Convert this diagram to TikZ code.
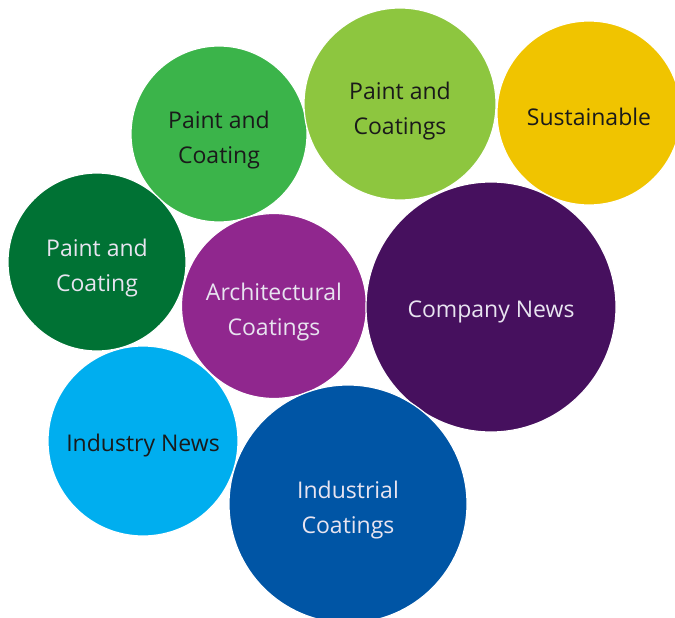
\documentclass[tikz,border=0pt]{standalone}
\usepackage{fontspec}
\setmainfont{Open Sans}
\definecolor{cMedGreen}{HTML}{3BB44A}
\definecolor{cLightGreen}{HTML}{8DC63F}
\definecolor{cYellow}{HTML}{F0C400}
\definecolor{cDarkGreen}{HTML}{007234}
\definecolor{cPurple}{HTML}{90278E}
\definecolor{cDarkPurple}{HTML}{46105E}
\definecolor{cLightBlue}{HTML}{00AEEF}
\definecolor{cBlue}{HTML}{0055A5}
\definecolor{cDarkText}{HTML}{1A1A1A}
\definecolor{cLightText}{HTML}{E8E4F0}
\tikzset{
  bubble/.style={circle, draw=white, line width=1.2pt, inner sep=0pt},
  lbl/.style={inner sep=0pt, align=center, font=\fontsize{23}{35}\selectfont},
  darktxt/.style={lbl, text=cDarkText},
  lighttxt/.style={lbl, text=cLightText}
}
\begin{document}
\begin{tikzpicture}[x=1pt,y=-1pt]
\useasboundingbox (0,0) rectangle (675,618);
\node[bubble, fill=cMedGreen, minimum size=176pt] (pc1) at (219,134) {};
\node[darktxt] (pc1t) at ([yshift=-6pt]pc1.center) {Paint and\\Coating};
\node[bubble, fill=cLightGreen, minimum size=192pt] (pc2) at (400,104) {};
\node[darktxt] (pc2t) at ([yshift=-7pt]pc2.center) {Paint and\\Coatings};
\node[bubble, fill=cYellow, minimum size=184pt] (sus) at (589,113) {};
\node[darktxt] (sust) at ([yshift=-4pt]sus.center) {Sustainable};
\node[bubble, fill=cDarkGreen, minimum size=178pt] (pc3) at (97,262) {};
\node[lighttxt] (pc3t) at ([yshift=-6pt]pc3.center) {Paint and\\Coating};
\node[bubble, fill=cPurple, minimum size=185pt] (arch) at (274,306) {};
\node[lighttxt] (archt) at ([yshift=-6pt]arch.center) {Architectural\\Coatings};
\node[bubble, fill=cDarkPurple, minimum size=250pt] (comp) at (491,307) {};
\node[lighttxt] (compt) at ([yshift=-5pt]comp.center) {Company News};
\node[bubble, fill=cLightBlue, minimum size=190pt] (ind) at (143,441) {};
\node[darktxt] (indt) at ([yshift=-5pt]ind.center) {Industry News};
\node[bubble, fill=cBlue, minimum size=238pt] (indc) at (348,504) {};
\node[lighttxt] (indct) at ([yshift=-6pt]indc.center) {Industrial\\Coatings};
\end{tikzpicture}
\end{document}
